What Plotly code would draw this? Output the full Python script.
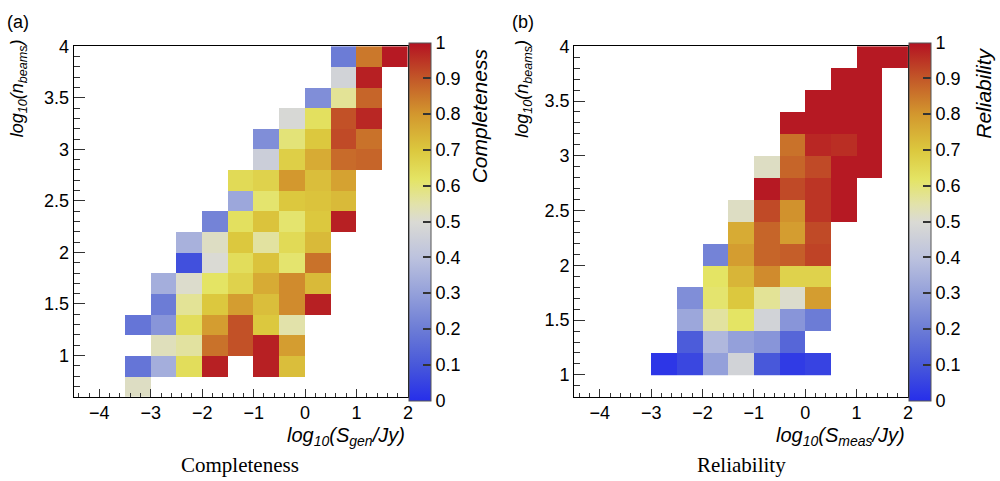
import plotly.graph_objects as go

N = None
# bin edges (log10 S) and (log10 n_beams)
s_edges = [-4.5, -4.0, -3.5, -3.0, -2.5, -2.0, -1.5, -1.0, -0.5, 0.0, 0.5, 1.0, 1.5, 2.0]
nb_edges_a = [0.6, 0.8, 1.0, 1.2, 1.4, 1.6, 1.8, 2.0, 2.2, 2.4, 2.6, 2.8, 3.0, 3.2, 3.4, 3.6, 3.8, 4.0]
nb_edges_b = [1.0, 1.2, 1.4, 1.6, 1.8, 2.0, 2.2, 2.4, 2.6, 2.8, 3.0, 3.2, 3.4, 3.6, 3.8, 4.0]

# Completeness (rows bottom -> top)
completeness = [
    [N, N, 0.52, N, N, N, N, N, N, N, N, N, N],
    [N, N, 0.18, 0.34, 0.64, 0.98, N, 0.98, 0.72, N, N, N, N],
    [N, N, N, 0.53, 0.56, 0.86, 0.91, 0.98, 0.79, N, N, N, N],
    [N, N, 0.18, 0.27, 0.64, 0.79, 0.91, 0.70, 0.55, N, N, N, N],
    [N, N, N, 0.20, 0.57, 0.70, 0.79, 0.72, 0.82, 0.98, N, N, N],
    [N, N, N, 0.34, 0.51, 0.62, 0.67, 0.76, 0.82, 0.73, N, N, N],
    [N, N, N, N, 0.08, 0.50, 0.64, 0.71, 0.61, 0.86, N, N, N],
    [N, N, N, N, 0.35, 0.52, 0.70, 0.56, 0.65, 0.73, N, N, N],
    [N, N, N, N, N, 0.22, 0.63, 0.71, 0.61, 0.70, 0.98, N, N],
    [N, N, N, N, N, N, 0.32, 0.61, 0.70, 0.71, 0.73, N, N],
    [N, N, N, N, N, N, 0.65, 0.67, 0.80, 0.72, 0.78, N, N],
    [N, N, N, N, N, N, N, 0.45, 0.68, 0.76, 0.87, 0.88, N],
    [N, N, N, N, N, N, N, 0.25, 0.60, 0.70, 0.92, 0.86, N],
    [N, N, N, N, N, N, N, N, 0.49, 0.63, 0.91, 0.97, N],
    [N, N, N, N, N, N, N, N, N, 0.25, 0.57, 0.88, N],
    [N, N, N, N, N, N, N, N, N, N, 0.47, 0.98, N],
    [N, N, N, N, N, N, N, N, N, N, 0.20, 0.85, 0.99],
]

# Reliability (rows bottom -> top)
reliability = [
    [N, N, N, 0.02, 0.06, 0.30, 0.47, 0.10, 0.03, 0.05, N, N, N],
    [N, N, N, N, 0.11, 0.37, 0.30, 0.27, 0.14, N, N, N, N],
    [N, N, N, N, 0.32, 0.56, 0.62, 0.47, 0.27, 0.20, N, N, N],
    [N, N, N, N, 0.25, 0.61, 0.70, 0.57, 0.51, 0.79, N, N, N],
    [N, N, N, N, N, 0.62, 0.74, 0.82, 0.67, 0.67, N, N, N],
    [N, N, N, N, N, 0.22, 0.79, 0.88, 0.89, 0.93, N, N, N],
    [N, N, N, N, N, N, 0.76, 0.88, 0.79, 0.92, N, N, N],
    [N, N, N, N, N, N, 0.52, 0.92, 0.81, 0.95, 0.99, N, N],
    [N, N, N, N, N, N, N, 0.99, 0.92, 0.95, 0.99, N, N],
    [N, N, N, N, N, N, N, 0.52, 0.88, 0.92, 0.99, 0.99, N],
    [N, N, N, N, N, N, N, N, 0.86, 0.97, 0.96, 0.99, N],
    [N, N, N, N, N, N, N, N, 0.99, 0.99, 0.99, 0.99, N],
    [N, N, N, N, N, N, N, N, N, 0.99, 0.99, 0.99, N],
    [N, N, N, N, N, N, N, N, N, N, 0.99, 0.99, N],
    [N, N, N, N, N, N, N, N, N, N, N, 0.99, 0.99],
]

x_ticks = [-4, -3, -2, -1, 0, 1, 2]
cbar_ticks = [0, 0.1, 0.2, 0.3, 0.4, 0.5, 0.6, 0.7, 0.8, 0.9, 1]
cbar_labels = ["0", "0.1", "0.2", "0.3", "0.4", "0.5", "0.6", "0.7", "0.8", "0.9", "1"]

cscale = [
    [0.0, "rgb(38,46,234)"],
    [0.1, "rgb(72,88,218)"],
    [0.2, "rgb(108,124,214)"],
    [0.3, "rgb(148,160,218)"],
    [0.4, "rgb(188,194,222)"],
    [0.5, "rgb(218,218,212)"],
    [0.55, "rgb(226,226,170)"],
    [0.62, "rgb(228,228,100)"],
    [0.7, "rgb(220,200,62)"],
    [0.8, "rgb(211,152,46)"],
    [0.9, "rgb(195,88,40)"],
    [1.0, "rgb(180,18,34)"],
]

W, H = 1000, 481
SANS = "Liberation Sans, Arial, sans-serif"
SERIF = "Liberation Serif, Times New Roman, serif"
TICK = 18
TITLE = 20

def px(x):
    return x / W

def py(y):
    return 1 - y / H

fig = go.Figure()
fig.add_trace(go.Heatmap(x=s_edges, y=nb_edges_a, z=completeness, coloraxis="coloraxis",
                         xaxis="x", yaxis="y", hoverongaps=False))
fig.add_trace(go.Heatmap(x=s_edges, y=nb_edges_b, z=reliability, coloraxis="coloraxis2",
                         xaxis="x2", yaxis="y2", hoverongaps=False))

top, bot = 37, 395
ydom = [py(bot), py(top)]

def cbar(x0):
    return dict(
        x=px(x0), xanchor="left", xref="paper", xpad=0,
        y=py((top + bot) / 2), yanchor="middle", ypad=0,
        thickness=22, thicknessmode="pixels",
        len=bot - top, lenmode="pixels",
        outlinewidth=1, outlinecolor="#555555",
        tickvals=cbar_ticks, ticktext=cbar_labels,
        ticks="inside", ticklen=8, tickcolor="#333333", tickwidth=1.5,
        tickfont=dict(family=SANS, size=TICK, color="black"),
    )

axis_common = dict(showgrid=False, zeroline=False, showline=True, mirror=True,
                   linecolor="black", linewidth=1, ticks="inside",
                   tickcolor="#333333", tickfont=dict(family=SANS, size=TICK, color="black"))

xcommon = dict(axis_common, range=[-4.5, 2.0], tickvals=x_ticks, ticklen=8,
               minor=dict(dtick=0.2, ticklen=4, ticks="inside", tickcolor="#333333"))
ycommon = dict(axis_common, dtick=0.5, ticklen=11, ticklabelstandoff=0,
               minor=dict(dtick=0.1, ticklen=6, ticks="inside", tickcolor="#333333"))

fig.update_layout(
    width=W, height=H,
    margin=dict(l=0, r=0, t=0, b=0),
    paper_bgcolor="white", plot_bgcolor="white",
    showlegend=False,
    coloraxis=dict(cmin=0, cmax=1, colorscale=cscale, colorbar=cbar(411)),
    coloraxis2=dict(cmin=0, cmax=1, colorscale=cscale, colorbar=cbar(913.5)),
    xaxis=dict(xcommon, domain=[px(74), px(410)], anchor="y"),
    yaxis=dict(ycommon, domain=ydom, range=[0.6, 4.0], anchor="x"),
    xaxis2=dict(xcommon, domain=[px(577), px(912.5)], anchor="y2"),
    yaxis2=dict(ycommon, domain=ydom, range=[0.8, 4.0], anchor="x2"),
)

ann = []
def A(text, x, y, xa="center", ya="middle", size=17, family=SANS, angle=0):
    ann.append(dict(text=text, x=px(x), y=py(y), xref="paper", yref="paper",
                    xanchor=xa, yanchor=ya, showarrow=False, textangle=angle,
                    font=dict(family=family, size=size, color="black")))

A("(a)", 18, 12, size=18)
A("(b)", 526, 12, size=18)
A("<i>log<sub>10</sub>(S<sub>gen</sub>/Jy)</i>", 409, 436, xa="right", size=TITLE)
A("<i>log<sub>10</sub>(S<sub>meas</sub>/Jy)</i>", 912, 436, xa="right", size=TITLE)
A("<i>log<sub>10</sub>(n<sub>beams</sub>)</i>", 19, 28, ya="top", size=18, angle=-90)
A("<i>log<sub>10</sub>(n<sub>beams</sub>)</i>", 526, 28, ya="top", size=18, angle=-90)
A("<i>Completeness</i>", 482, 37, ya="top", size=21, angle=-90)
A("<i>Reliability</i>", 989, 37, ya="top", size=21, angle=-90)
A("Completeness", 241, 465, size=21, family=SERIF)
A("Reliability", 745, 465, size=21, family=SERIF)
fig.update_layout(annotations=ann)

fig.write_html("out.html")
